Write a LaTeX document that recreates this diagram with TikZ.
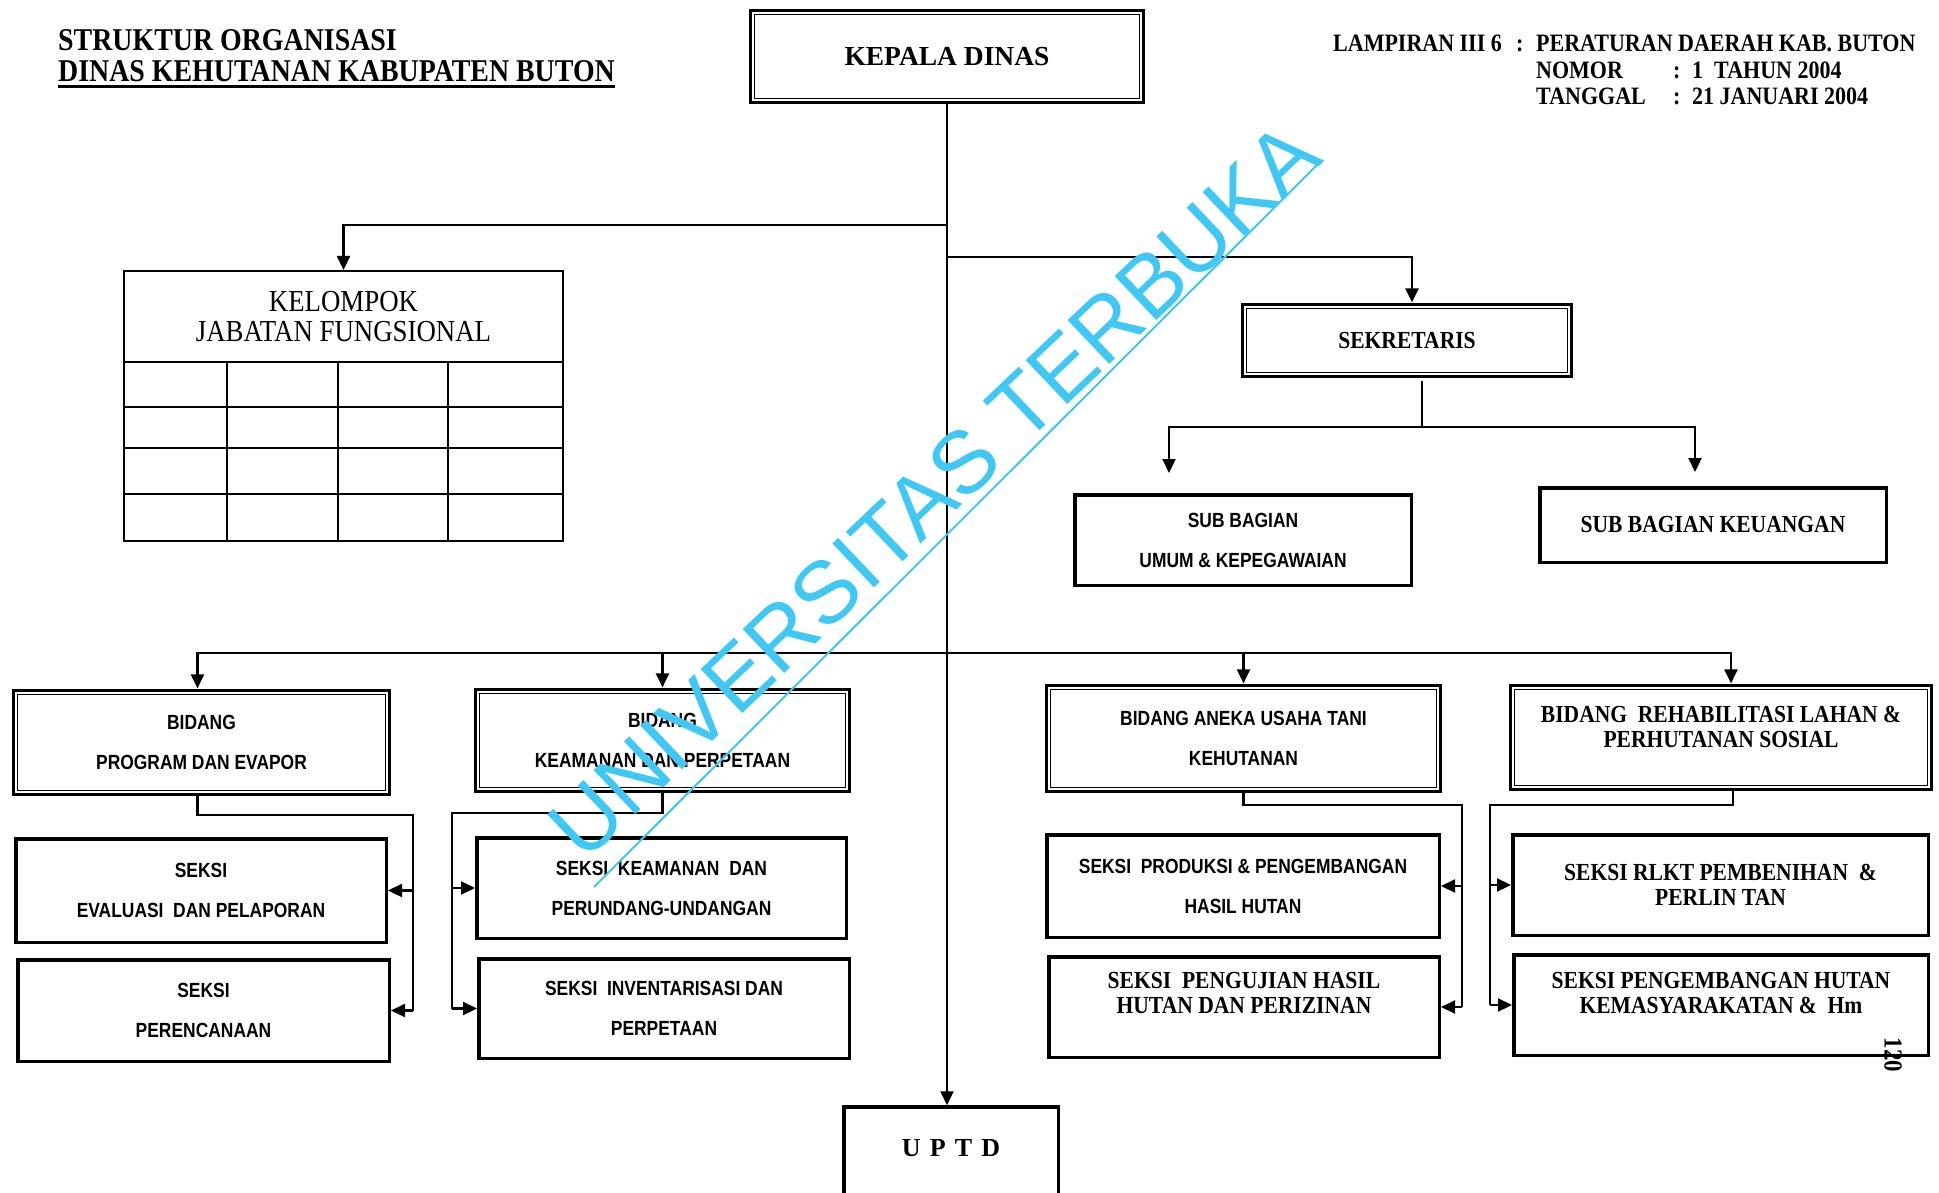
\documentclass[tikz,border=0pt]{standalone}
\usepackage{fontspec}
\setmainfont{Liberation Serif}
\newfontfamily\tnr{Liberation Serif}
\newfontfamily\tnrn[FakeStretch=0.88]{Liberation Serif}
\newfontfamily\arn[FakeStretch=0.85]{Liberation Sans}
\newfontfamily\wmfont{Liberation Sans}
\usetikzlibrary{arrows.meta,positioning}
\definecolor{wmcyan}{RGB}{64,200,245}

\begin{document}
\begin{tikzpicture}[x=1pt, y=-1pt,
  plainbox/.style = {draw, fill=white, line width=3.5pt, inner sep=0pt},
  dblbox/.style = {draw, fill=white, line width=1.2pt, double, double distance=2.2pt, preaction={draw, line width=8pt}, inner sep=0pt},
  sanstext/.style = {font=\arn\bfseries\fontsize{20.5}{40}\selectfont, align=center},
  seriffont/.style = {font=\tnrn\bfseries\fontsize{24.5}{25.5}\selectfont},
  seriftext/.style = {seriffont, align=center},
  conn/.style = {line width=2.2pt},
  arr/.style = {conn, -{Triangle[length=14pt, width=13pt]}},
  tbl/.style = {line width=2pt}]
\useasboundingbox (0,0) rectangle (1939,1193);
\clip (0,0) rectangle (1939,1193);

% heading
\node[anchor=base west, inner sep=0pt, font=\tnrn\bfseries\fontsize{31.7}{31.7}\selectfont] (ttl1) at (58,51) {STRUKTUR ORGANISASI};
\node[anchor=base west, inner sep=0pt, font=\tnrn\bfseries\fontsize{31.7}{31.7}\selectfont] (ttl2) at (58,82) {DINAS KEHUTANAN KABUPATEN BUTON};
\draw[line width=2.5pt] ([yshift=-4.5pt]ttl2.base west) -- ([yshift=-4.5pt]ttl2.base east);

\node[anchor=base west, inner sep=0pt, font=\tnrn\bfseries\fontsize{25}{26.5}\selectfont] (lamp) at (1333,52) {\begin{tabular}[t]{@{}l@{}}
\makebox[183pt][l]{LAMPIRAN III 6}\makebox[20pt][l]{:}PERATURAN DAERAH KAB. BUTON\\
\hspace*{203pt}\makebox[137pt][l]{NOMOR}\makebox[19pt][l]{:}1\ \ TAHUN 2004\\
\hspace*{203pt}\makebox[137pt][l]{TANGGAL}\makebox[19pt][l]{:}21 JANUARI 2004
\end{tabular}};

% top level
\node[dblbox, minimum width=388pt, minimum height=87pt, font=\tnr\bfseries\fontsize{27.5}{27.5}\selectfont] (kd) at (947,56.5) {KEPALA DINAS};

\node[draw, line width=2pt, minimum width=439pt, minimum height=91pt, inner sep=0pt, align=center, font=\tnrn\fontsize{30.5}{30}\selectfont] (kjf) at (343.5,316.5) {KELOMPOK\\JABATAN FUNGSIONAL};
\draw[tbl] (124,362) rectangle (563,541)
  (124,407) -- (563,407) (124,448) -- (563,448) (124,494) -- (563,494)
  (227,362) -- (227,541) (338,362) -- (338,541) (448,362) -- (448,541);

\node[dblbox, seriftext, minimum width=324pt, minimum height=67pt] (sek) at (1407,340.5) {SEKRETARIS};
\node[plainbox, sanstext, minimum width=336.5pt, minimum height=90.5pt] (subum) at (1243,540) {SUB BAGIAN\\UMUM \& KEPEGAWAIAN};
\node[plainbox, seriftext, minimum width=346.5pt, minimum height=74.5pt] (subku) at (1713,525) {SUB BAGIAN KEUANGAN};

% bidang
\node[dblbox, sanstext, minimum width=371pt, minimum height=99pt] (bp) at (201.5,742.5) {BIDANG\\PROGRAM DAN EVAPOR};
\node[dblbox, sanstext, minimum width=369pt, minimum height=97pt] (bk) at (662.5,740.5) {BIDANG\\KEAMANAN DAN PERPETAAN};
\node[dblbox, sanstext, minimum width=389pt, minimum height=101pt] (ba) at (1243.5,738.5) {BIDANG ANEKA USAHA TANI\\KEHUTANAN};
\node[dblbox, seriffont, minimum width=416pt, text height=34pt, text depth=65pt, anchor=base] (br) at (1721,722) {\begin{tabular}[t]{@{}c@{}}BIDANG\ \ REHABILITASI LAHAN \&\\PERHUTANAN SOSIAL\end{tabular}};

% seksi
\node[plainbox, sanstext, minimum width=370.5pt, minimum height=103.5pt] (se) at (201,890.5) {SEKSI\\EVALUASI\ \ DAN PELAPORAN};
\node[plainbox, sanstext, minimum width=371.5pt, minimum height=101.5pt] (sr) at (203.5,1010.5) {SEKSI\\PERENCANAAN};
\node[plainbox, sanstext, minimum width=369.5pt, minimum height=100.5pt] (ska) at (661.5,888) {SEKSI\ \ KEAMANAN\ \ DAN\\PERUNDANG-UNDANGAN};
\node[plainbox, sanstext, minimum width=370.5pt, minimum height=99.5pt] (ski) at (664,1008.5) {SEKSI\ \ INVENTARISASI DAN\\PERPETAAN};
\node[plainbox, sanstext, minimum width=392.5pt, minimum height=102.5pt] (sp) at (1243,886) {SEKSI\ \ PRODUKSI \& PENGEMBANGAN\\HASIL HUTAN};
\node[plainbox, seriffont, minimum width=390.5pt, text height=31.25pt, text depth=69.25pt, anchor=base] (sh) at (1244,988) {\begin{tabular}[t]{@{}c@{}}SEKSI\ \ PENGUJIAN HASIL\\HUTAN DAN PERIZINAN\end{tabular}};
\node[plainbox, seriftext, minimum width=415.5pt, minimum height=100.5pt] (srl) at (1720.5,885) {SEKSI RLKT PEMBENIHAN\ \ \&\\PERLIN TAN};
\node[plainbox, seriffont, minimum width=414.5pt, text height=33.25pt, text depth=67.25pt, anchor=base] (sph) at (1721,988) {\begin{tabular}[t]{@{}c@{}}SEKSI PENGEMBANGAN HUTAN\\KEMASYARAKATAN \&\ \ Hm\end{tabular}};

\node[plainbox, minimum width=214.5pt, text height=49.5pt, text depth=60pt, anchor=base, font=\tnr\bfseries\fontsize{26}{26}\selectfont] (uptd) at (951,1156.5) {U\hspace{.35em}P\hspace{.35em}T\hspace{.35em}D};

\node[rotate=-90, inner sep=0pt, font=\tnrn\bfseries\fontsize{26}{26}\selectfont] (pgno) at (1893,1055) {120};

% connectors
\coordinate (kjfJ) at (947,225);
\coordinate (sekJ) at (947,257);
\coordinate (subJ) at (1422,427);
\coordinate (busJ) at (947,653);

\draw[arr] (kd.south) -- (kd.south |- uptd.north);
\draw[arr] (kjfJ) -| (kjf.north);
\draw[arr, shorten >=4pt] (sekJ) -| ([xshift=5pt]sek.north);

\draw[conn, shorten <=6pt] (sek.south -| subJ) -- (subJ);
\draw[arr] (subJ) -| ([xshift=-74pt, yshift=20pt]subum.north);
\draw[arr] (subJ) -| ([xshift=-18pt, yshift=14pt]subku.north);

\draw[arr, shorten >=4pt] (busJ) -| ([xshift=-4pt]bp.north);
\draw[arr, shorten >=4pt] (busJ) -| (bk.north);
\draw[arr, shorten >=4pt] (busJ) -| (ba.north);
\draw[arr, shorten >=4pt] (busJ) -| ([xshift=10pt]br.north);

\coordinate (bpJ) at (413,815);
\draw[conn] ([xshift=-4pt]bp.south) |- (bpJ) -- (bpJ |- sr.east);
\draw[arr] (bpJ |- se.east) -- (se.east);
\draw[arr] (bpJ |- sr.east) -- (sr.east);

\coordinate (bkJ) at (452,813);
\draw[conn] (bk.south) |- (bkJ) -- (bkJ |- ski.west);
\draw[arr] (bkJ |- ska.west) -- (ska.west);
\draw[arr] (bkJ |- ski.west) -- (ski.west);

\coordinate (baJ) at (1462,805);
\draw[conn] (ba.south) |- (baJ) -- (baJ |- sh.east);
\draw[arr] (baJ |- sp.east) -- (sp.east);
\draw[arr] (baJ |- sh.east) -- (sh.east);

\coordinate (brJ) at (1490,805);
\draw[conn] ([xshift=12pt]br.south) |- (brJ) -- (brJ |- sph.west);
\draw[arr] (brJ |- srl.west) -- (srl.west);
\draw[arr] (brJ |- sph.west) -- (sph.west);

% watermark
\node[rotate=43.5, inner sep=0pt, text=wmcyan, font=\wmfont\fontsize{88}{88}\selectfont] (wmark) at (934,490) {UNIVERSITAS TERBUKA};
\draw[wmcyan, line width=2pt] (594,887) -- (1321,161);

\end{tikzpicture}
\end{document}
